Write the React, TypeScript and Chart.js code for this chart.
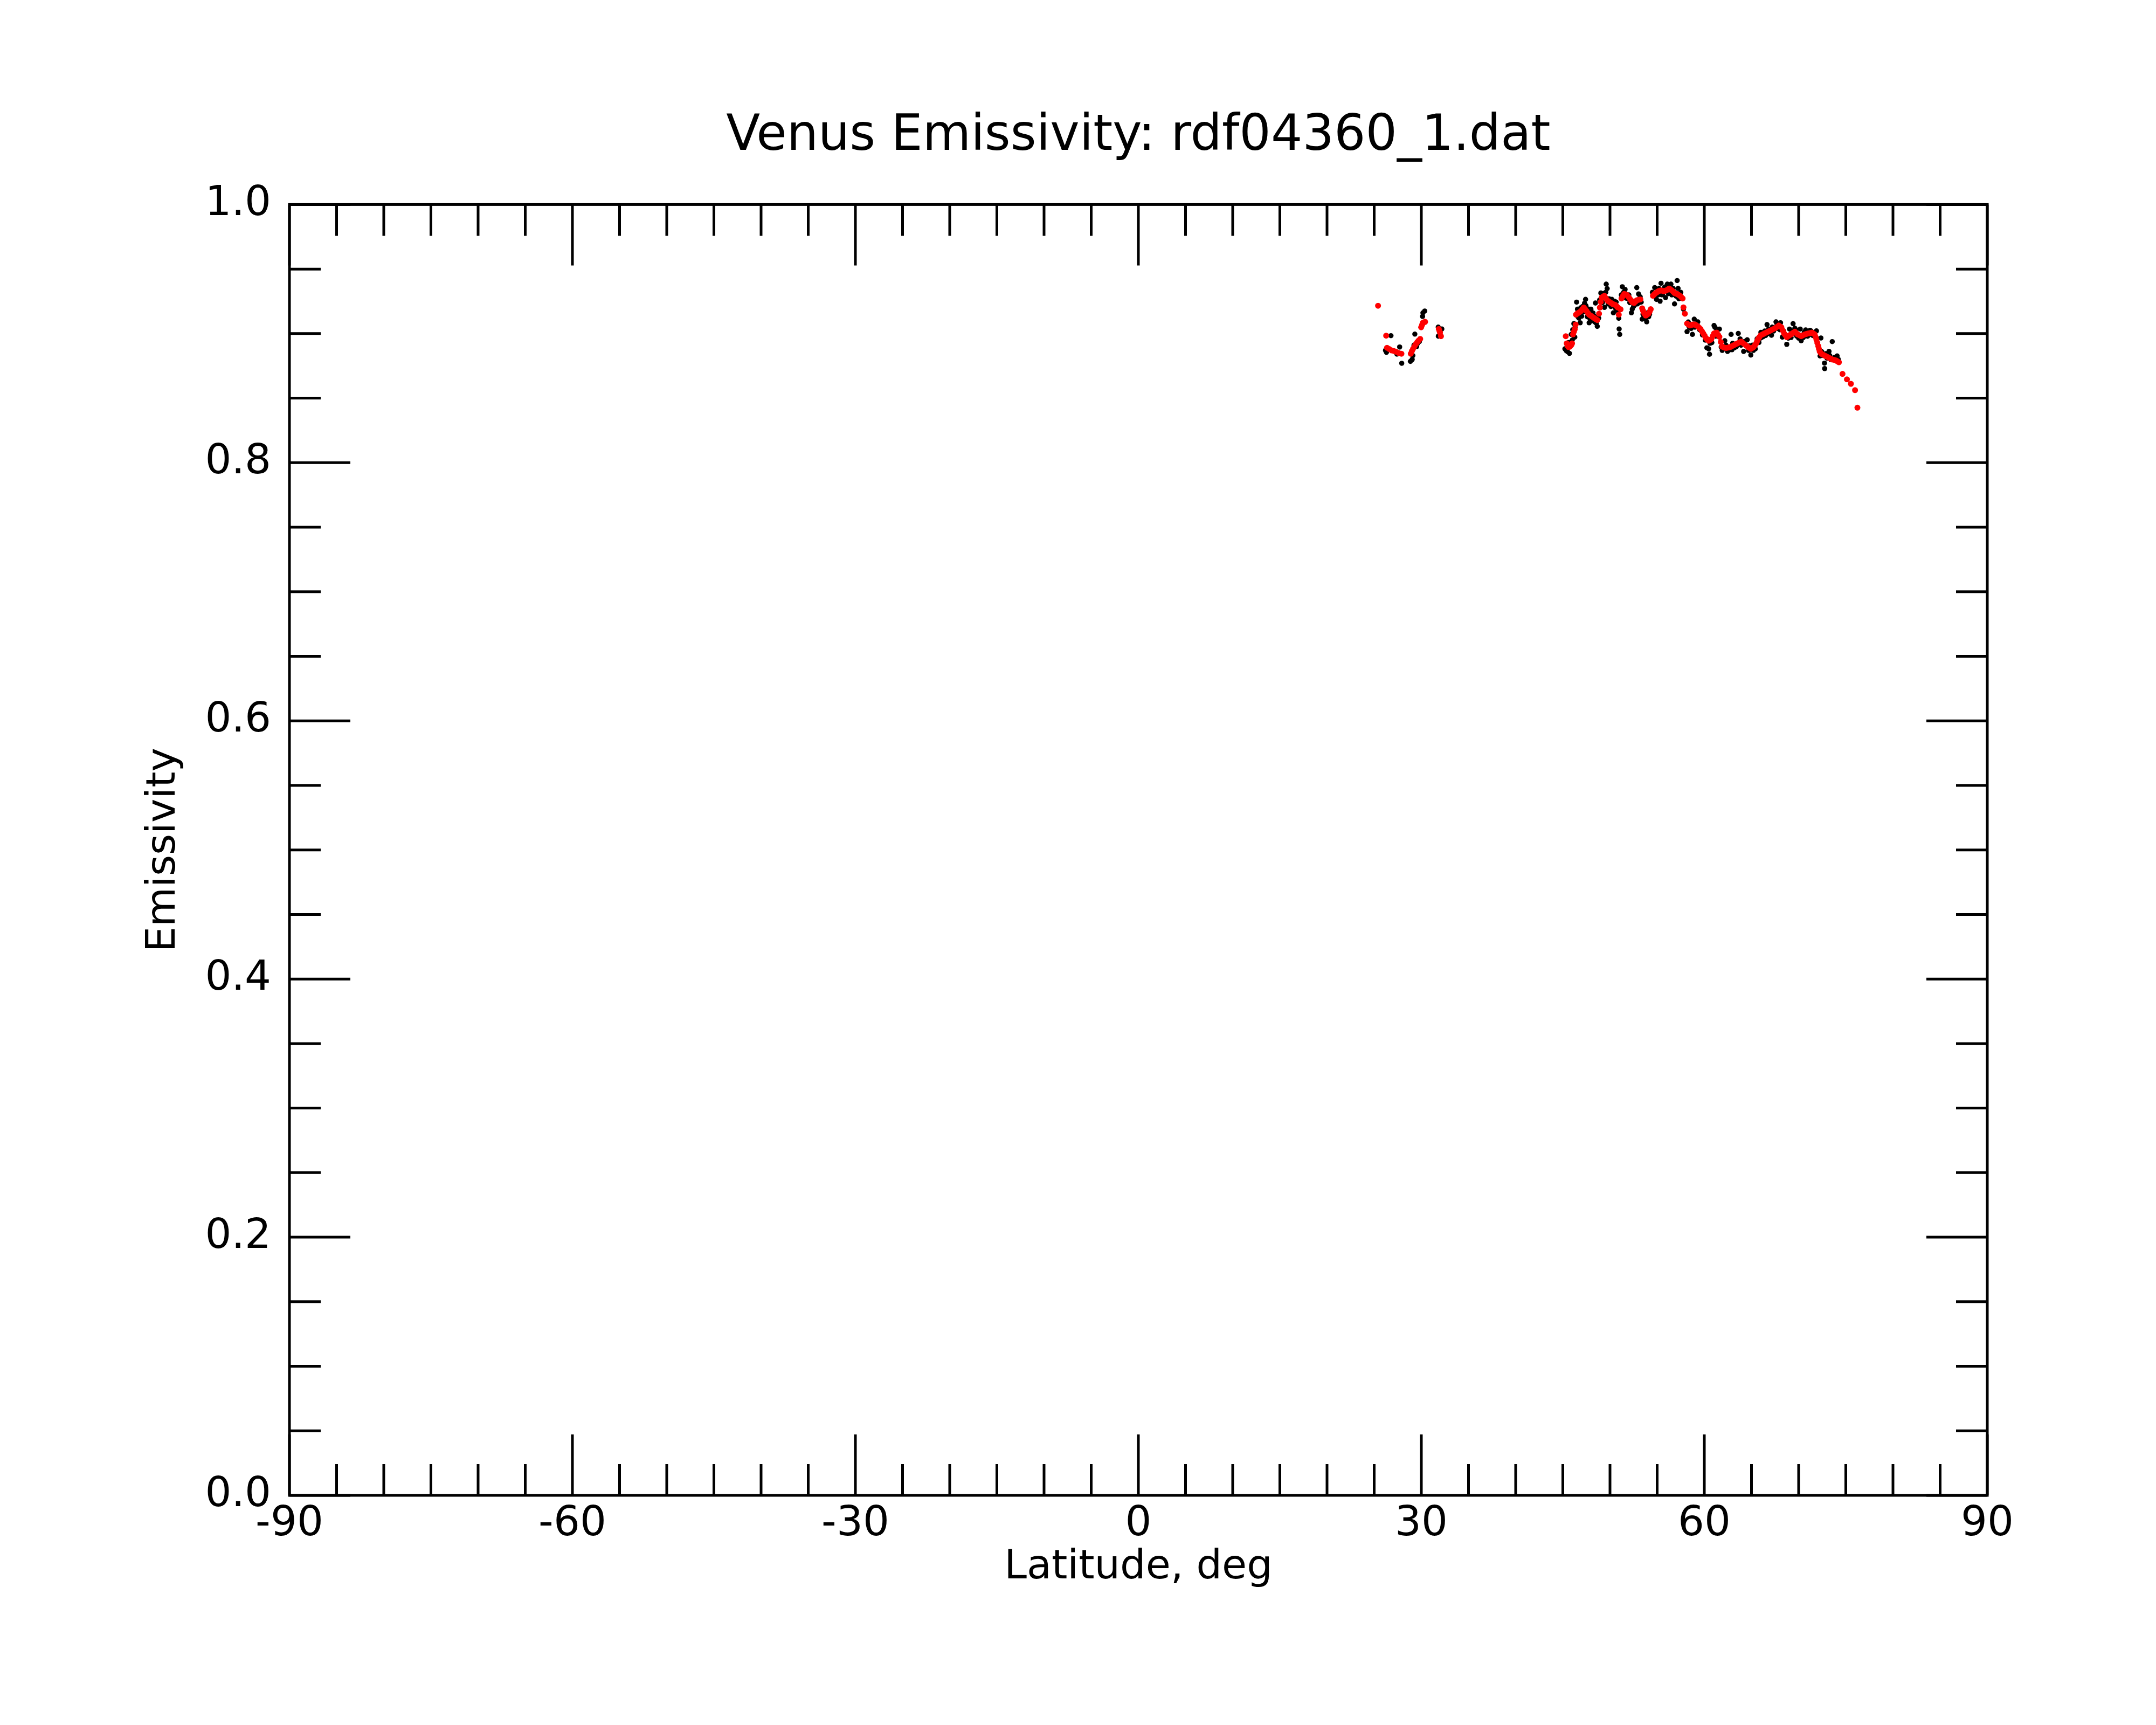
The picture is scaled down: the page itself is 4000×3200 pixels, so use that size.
import React, { useEffect, useRef } from 'react';
import { Chart, registerables } from 'chart.js';

Chart.register(...registerables);

// ---- Data ----
// Smoothed emissivity (red)
const smoothLat = [
  25.41, 26.27, 26.36, 26.6, 26.84, 27.1, 27.31, 27.6, 27.89,
  28.88, 29.0, 29.12, 29.26, 29.41, 29.55, 29.69, 29.88, 29.98, 30.08, 30.17, 30.28, 30.4,
  31.85, 31.92, 31.98, 32.08,
  45.31, 45.41, 45.5, 45.6, 45.7, 45.79, 45.9, 45.98, 46.08, 46.18, 46.27, 46.36, 46.4, 46.52,
  46.65, 46.8, 46.93, 47.08, 47.22, 47.36, 47.51, 47.65, 47.79, 47.94, 48.08, 48.22, 48.36,
  48.5, 48.65, 48.84, 48.93, 49.02, 49.12, 49.26, 49.41, 49.55, 49.7, 49.84, 49.98, 50.12,
  50.27, 50.41, 50.55, 50.7, 50.84, 50.93, 51.12, 51.22, 51.36, 51.5, 51.65, 51.79, 51.94,
  52.08, 52.22, 52.36, 52.55, 52.7, 52.84, 53.03, 53.22, 53.41, 53.5, 53.6, 53.7, 53.79,
  53.94, 54.08, 54.2, 54.32, 54.55, 54.7, 54.84, 54.98, 55.12, 55.27, 55.41, 55.55, 55.7,
  55.84, 55.98, 56.12, 56.27, 56.41, 56.55, 56.7, 56.84, 56.98, 57.12, 57.27, 57.41, 57.55,
  57.7, 57.79, 57.94, 58.17, 58.31, 58.46, 58.6, 58.74, 58.89, 59.03, 59.17, 59.31, 59.46,
  59.6, 59.75, 59.89, 60.03, 60.17, 60.31, 60.46, 60.6, 60.74, 60.89, 61.03, 61.17, 61.31,
  61.46, 61.6, 61.75, 61.89, 62.05, 62.2, 62.36, 62.55, 62.74, 62.93, 63.12, 63.31, 63.5,
  63.7, 63.89, 64.08, 64.27, 64.46, 64.65, 64.8, 64.93, 65.08, 65.22, 65.36, 65.5, 65.6,
  65.7, 65.84, 65.98, 66.17, 66.36, 66.55, 66.74, 66.93, 67.12, 67.31, 67.5, 67.7, 67.89,
  68.03, 68.17, 68.31, 68.46, 68.6, 68.74, 68.89, 69.03, 69.17, 69.31, 69.46, 69.6, 69.75,
  69.89, 70.08, 70.27, 70.46, 70.65, 70.84, 71.03, 71.22, 71.41, 71.55, 71.7, 71.8, 71.89,
  71.98, 72.08, 72.15, 72.23, 72.35, 72.46, 72.65, 72.84, 73.03, 73.22, 73.41, 73.6, 73.79,
  73.98, 74.12, 74.27, 74.65, 75.12, 75.54, 75.98, 76.23,
];
const smoothEm = [
  0.9216, 0.8984, 0.889, 0.888, 0.887, 0.8865, 0.886, 0.885, 0.8844,
  0.8844, 0.8865, 0.8882, 0.89, 0.8917, 0.8932, 0.8945, 0.8959, 0.9049, 0.9068, 0.9084, 0.9088, 0.9091,
  0.9036, 0.9022, 0.9008, 0.898,
  0.898, 0.8924, 0.8905, 0.8896, 0.8898, 0.8903, 0.8912, 0.8924, 0.8994, 0.9015, 0.9035, 0.907, 0.9147, 0.9155,
  0.9161, 0.9168, 0.9175, 0.919, 0.9202, 0.919, 0.9175, 0.916, 0.9147, 0.914, 0.9133, 0.9126, 0.9119,
  0.9112, 0.9105, 0.9154, 0.9202, 0.9245, 0.9279, 0.9287, 0.9293, 0.9275, 0.9258, 0.925, 0.9244, 0.9237,
  0.923, 0.9226, 0.9223, 0.9212, 0.9202, 0.9147, 0.9188, 0.9272, 0.929, 0.9307, 0.9304, 0.93, 0.9286,
  0.9272, 0.9258, 0.9244, 0.9237, 0.9248, 0.9258, 0.9262, 0.9265, 0.9196, 0.9178, 0.9161, 0.915, 0.914,
  0.9147, 0.9154, 0.917, 0.9189, 0.9293, 0.9304, 0.9314, 0.9321, 0.9328, 0.9332, 0.9335, 0.9332, 0.9328,
  0.9332, 0.9335, 0.9342, 0.9349, 0.9342, 0.9335, 0.9325, 0.9314, 0.931, 0.9307, 0.93, 0.9293, 0.9283,
  0.9272, 0.9203, 0.9154, 0.9078, 0.907, 0.9063, 0.9066, 0.907, 0.907, 0.907, 0.9063, 0.9056, 0.9045,
  0.9035, 0.9018, 0.9001, 0.8984, 0.8966, 0.8955, 0.8945, 0.895, 0.8957, 0.898, 0.9001, 0.9005, 0.9008,
  0.899, 0.8975, 0.8935, 0.89, 0.8894, 0.889, 0.8889, 0.8892, 0.8896, 0.8903, 0.891, 0.8917, 0.8924,
  0.8931, 0.8938, 0.8928, 0.8917, 0.8906, 0.8896, 0.8888, 0.8882, 0.8889, 0.8896, 0.891, 0.8924, 0.8942,
  0.8959, 0.8973, 0.8987, 0.8994, 0.9001, 0.9008, 0.9015, 0.9021, 0.9028, 0.9035, 0.9042, 0.9052, 0.9063,
  0.9056, 0.9049, 0.9025, 0.9001, 0.8987, 0.8973, 0.898, 0.8987, 0.8994, 0.9001, 0.9008, 0.9015, 0.9004,
  0.8994, 0.8987, 0.898, 0.8987, 0.8994, 0.8998, 0.9001, 0.9005, 0.9008, 0.9001, 0.8994, 0.8973, 0.8952,
  0.8928, 0.8903, 0.8882, 0.8862, 0.885, 0.8841, 0.8834, 0.8827, 0.882, 0.8813, 0.8806, 0.8799, 0.8796,
  0.8792, 0.8785, 0.8778, 0.8688, 0.8646, 0.8611, 0.8562, 0.8426,
];

// Raw emissivity (black)
const rawLat = [
  26.2, 26.3, 26.78, 27.41, 27.7, 27.92, 28.84, 29.03, 29.1, 29.22, 29.31, 29.5, 29.6, 29.79,
  30.13, 30.17, 30.36, 31.79, 32.17, 31.8, 31.95,
  45.22, 45.35, 45.5, 45.7, 45.85, 45.89, 46.05, 46.17, 46.27, 46.46, 46.55, 46.7, 46.84, 47.0,
  47.1, 47.41, 47.45, 47.6, 47.79, 47.98, 48.1, 48.36, 48.46, 48.55, 48.65, 48.8, 49.03, 49.2,
  49.41, 49.55, 49.6, 49.7, 49.9, 50.1, 50.36, 50.5, 50.65, 50.8, 50.93, 50.97, 51.03, 51.31,
  51.45, 51.6, 51.9, 52.1, 52.27, 52.36, 52.6, 52.84, 53.03, 53.2, 53.31, 53.41, 53.6, 53.89,
  53.98, 54.2, 54.6, 54.74, 54.93, 55.1, 55.31, 55.41, 55.6, 55.89, 56.08, 56.3, 56.46, 56.55,
  56.84, 57.0, 57.12, 57.22, 57.4, 57.6, 57.79, 58.17, 58.4, 58.74, 58.93, 59.1, 59.31, 59.5,
  59.8, 60.27, 60.46, 60.55, 60.8, 61.03, 61.12, 61.31, 61.6, 61.79, 62.17, 62.46, 62.84, 62.93,
  63.2, 63.6, 63.79, 64.17, 64.55, 64.7, 64.93, 65.2, 65.41, 65.79, 65.98, 66.2, 66.5, 66.65,
  66.9, 67.12, 67.35, 67.6, 67.8, 68.08, 68.27, 68.5, 68.74, 69.03, 69.2, 69.41, 69.6, 69.8,
  70.0, 70.17, 70.27, 70.5, 70.74, 70.95, 71.31, 71.5, 71.89, 72.1, 72.27, 72.36, 72.6, 72.74,
  72.76, 73.0, 73.22, 73.4, 73.56, 74.08,
  45.45, 45.6, 46.0, 46.3, 46.6, 46.9, 47.2, 47.3, 47.7, 47.9, 48.2, 48.4, 48.9, 49.3, 49.8,
  50.2, 50.6, 51.2, 51.7, 52.0, 52.5, 52.9, 53.1, 53.5, 53.75, 54.1, 54.5, 54.8, 55.2, 55.5,
  55.8, 56.2, 56.7, 57.3, 57.5, 58.3, 58.6, 59.0, 59.7, 60.1, 60.6, 61.2, 61.9, 62.3, 62.7,
  63.0, 63.4, 63.9, 64.3, 64.8, 65.1, 65.6, 66.0, 66.4, 66.8, 67.2, 67.7, 68.0, 68.4, 68.9,
  69.3, 69.7, 70.1, 70.6, 71.0, 71.2, 71.7, 72.0, 72.45, 72.9, 73.3, 73.8, 74.2,
];
const rawEm = [
  0.887, 0.8855, 0.8984, 0.8841, 0.8896, 0.877, 0.8785, 0.88, 0.883, 0.891, 0.8996, 0.89, 0.8924, 0.8938,
  0.9133, 0.9161, 0.9175, 0.905, 0.9036, 0.898, 0.899,
  0.8882, 0.887, 0.886, 0.8847, 0.893, 0.8994, 0.903, 0.9077, 0.8973, 0.9244, 0.9189, 0.912, 0.9084, 0.9135,
  0.921, 0.9265, 0.9216, 0.913, 0.9084, 0.9189, 0.91, 0.9133, 0.9237, 0.908, 0.9056, 0.912, 0.9314, 0.924,
  0.9203, 0.932, 0.9383, 0.9349, 0.927, 0.921, 0.9161, 0.925, 0.9244, 0.918, 0.9119, 0.9036, 0.8994, 0.9363,
  0.932, 0.9342, 0.927, 0.924, 0.9161, 0.9189, 0.922, 0.9356, 0.9307, 0.9285, 0.9244, 0.9112, 0.913, 0.9091,
  0.9161, 0.915, 0.931, 0.9356, 0.9265, 0.93, 0.9251, 0.939, 0.931, 0.9279, 0.9383, 0.932, 0.9383, 0.93,
  0.923, 0.929, 0.9411, 0.935, 0.93, 0.9279, 0.9189, 0.9015, 0.905, 0.8994, 0.9112, 0.906, 0.9091, 0.903,
  0.899, 0.889, 0.8882, 0.884, 0.893, 0.9063, 0.9049, 0.9035, 0.9035, 0.8896, 0.8945, 0.8862, 0.8994, 0.8875,
  0.889, 0.9001, 0.8959, 0.8862, 0.8952, 0.887, 0.8834, 0.887, 0.8882, 0.8931, 0.8966, 0.8975, 0.8985, 0.907,
  0.9, 0.8987, 0.902, 0.9091, 0.904, 0.9084, 0.8973, 0.899, 0.8917, 0.9035, 0.897, 0.9077, 0.9042, 0.898,
  0.8965, 0.9035, 0.8945, 0.897, 0.9028, 0.898, 0.9021, 0.8985, 0.9021, 0.89, 0.8827, 0.8966, 0.883, 0.8771,
  0.8729, 0.881, 0.8862, 0.88, 0.8938, 0.8827,
  0.8915, 0.893, 0.895, 0.905, 0.913, 0.92, 0.917, 0.9235, 0.919, 0.911, 0.916, 0.909, 0.926, 0.931, 0.923,
  0.9265, 0.9195, 0.93, 0.9275, 0.93, 0.921, 0.923, 0.924, 0.915, 0.9115, 0.913, 0.932, 0.929, 0.935, 0.93,
  0.936, 0.931, 0.935, 0.927, 0.932, 0.909, 0.904, 0.905, 0.902, 0.895, 0.8925, 0.898, 0.887, 0.891, 0.8875,
  0.8925, 0.89, 0.891, 0.894, 0.8905, 0.891, 0.896, 0.901, 0.902, 0.9035, 0.905, 0.9065, 0.903, 0.902, 0.8965,
  0.902, 0.903, 0.897, 0.901, 0.8985, 0.9025, 0.901, 0.893, 0.886, 0.8845, 0.883, 0.8815, 0.88,
];

// Axis ticks
const xTickLabels = [-90, -60, -30, 0, 30, 60, 90];
const yTickLabels = [0, 0.2, 0.4, 0.6, 0.8, 1.0];
const xMinorStep = 5;
const yMinorStep = 0.05;

const FONT = 'DejaVu Sans';

const framePlugin = {
  id: 'idlFrame',
  afterDatasetsDraw(chart: any) {
    const { ctx, chartArea } = chart;
    const { left, right, top, bottom } = chartArea;
    const xs = chart.scales.x;
    const ys = chart.scales.y;
    ctx.save();
    ctx.strokeStyle = '#000';
    ctx.lineWidth = 5;
    ctx.lineCap = 'butt';
    ctx.beginPath();
    const xMin = xTickLabels[0];
    const xMax = xTickLabels[xTickLabels.length - 1];
    const nx = Math.round((xMax - xMin) / xMinorStep);
    for (let i = 0; i <= nx; i++) {
      const v = xMin + i * xMinorStep;
      const major = xTickLabels.some((t) => Math.abs(t - v) < 1e-6);
      const len = major ? 113 : 58;
      const px = xs.getPixelForValue(v);
      ctx.moveTo(px, bottom);
      ctx.lineTo(px, bottom - len);
      ctx.moveTo(px, top);
      ctx.lineTo(px, top + len);
    }
    const yMin = yTickLabels[0];
    const yMax = yTickLabels[yTickLabels.length - 1];
    const ny = Math.round((yMax - yMin) / yMinorStep);
    for (let i = 0; i <= ny; i++) {
      const v = yMin + i * yMinorStep;
      const major = yTickLabels.some((t) => Math.abs(t - v) < 1e-6);
      const len = major ? 113 : 58;
      const py = ys.getPixelForValue(v);
      ctx.moveTo(left, py);
      ctx.lineTo(left + len, py);
      ctx.moveTo(right, py);
      ctx.lineTo(right - len, py);
    }
    ctx.stroke();
    ctx.strokeRect(left, top, right - left, bottom - top);
    ctx.restore();
  },
};

export default function App() {
  const ref = useRef<HTMLCanvasElement | null>(null);

  useEffect(() => {
    document.body.style.margin = '0';
    const canvas = ref.current;
    if (!canvas) return;
    const smooth = smoothLat.map((x, i) => ({ x, y: smoothEm[i] }));
    const raw = rawLat.map((x, i) => ({ x, y: rawEm[i] }));
    const chart = new Chart(canvas, {
      type: 'scatter',
      data: {
        datasets: [
          {
            label: 'smoothed',
            data: smooth,
            backgroundColor: '#ff0000',
            borderColor: '#ff0000',
            pointRadius: 5.5,
            pointBorderWidth: 0,
            showLine: false,
          },
          {
            label: 'raw',
            data: raw,
            backgroundColor: '#000000',
            borderColor: '#000000',
            pointRadius: 4.8,
            pointBorderWidth: 0,
            showLine: false,
          },
        ],
      },
      options: {
        animation: false,
        responsive: false,
        devicePixelRatio: 1,
        layout: { padding: { left: 0, right: 313, top: 0, bottom: 0 } },
        plugins: {
          legend: { display: false },
          tooltip: { enabled: false },
          title: {
            display: true,
            fullSize: false,
            text: 'Venus Emissivity: rdf04360_1.dat',
            color: '#000',
            font: { family: FONT, size: 92, weight: 'normal', lineHeight: 1.2 },
            padding: { top: 199, bottom: 70 },
          },
        },
        scales: {
          x: {
            type: 'linear',
            position: 'bottom',
            min: -90,
            max: 90,
            grid: { display: false, drawTicks: false },
            border: { display: false },
            afterBuildTicks: (s: any) => {
              s.ticks = xTickLabels.map((v) => ({ value: v }));
            },
            afterFit: (s: any) => {
              s.height = 426;
            },
            ticks: {
              autoSkip: false,
              maxRotation: 0,
              minRotation: 0,
              padding: 8,
              color: '#000',
              font: { family: FONT, size: 77, lineHeight: 1.2 },
              callback: (v: any) => String(v),
            },
            title: {
              display: true,
              text: 'Latitude, deg',
              color: '#000',
              font: { family: FONT, size: 75, lineHeight: 1.2 },
              padding: { top: 0, bottom: 246 },
            },
          },
          y: {
            type: 'linear',
            position: 'left',
            min: 0,
            max: 1,
            grid: { display: false, drawTicks: false },
            border: { display: false },
            afterBuildTicks: (s: any) => {
              s.ticks = yTickLabels.map((v) => ({ value: v }));
            },
            afterFit: (s: any) => {
              s.width = 537;
            },
            ticks: {
              padding: 34,
              color: '#000',
              font: { family: FONT, size: 77, lineHeight: 1.2 },
              callback: (v: any) => Number(v).toFixed(1),
            },
            title: {
              display: true,
              text: 'Emissivity',
              color: '#000',
              font: { family: FONT, size: 75, lineHeight: 1.2 },
              padding: { top: 260, bottom: 0 },
            },
          },
        },
      },
      plugins: [framePlugin],
    });
    return () => {
      chart.destroy();
    };
  }, []);

  return (
    <div style={{ position: 'absolute', left: 0, top: 0, width: 4000, height: 3200, background: '#fff' }}>
      <canvas ref={ref} width={4000} height={3200} style={{ width: 4000, height: 3200, display: 'block' }} />
    </div>
  );
}
